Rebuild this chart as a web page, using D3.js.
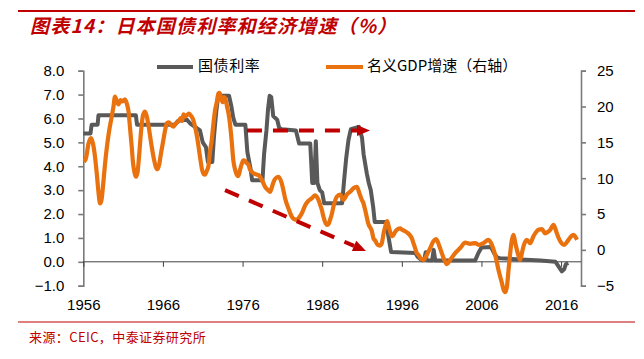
<!DOCTYPE html>
<html><head><meta charset="utf-8">
<script src="https://cdn.jsdelivr.net/npm/d3@7"></script>
<style>
html,body{margin:0;padding:0;background:#fff;}
svg{display:block;}
</style>
</head><body>
<svg id="c" width="644" height="359"></svg>
<script>
const titleText = "图表14：日本国债利率和经济增速（%）";
const sourceText = "来源：CEIC，中泰证券研究所";
const legendLabels = ["国债利率", "名义GDP增速（右轴）"];
const xTicks = [1956, 1966, 1976, 1986, 1996, 2006, 2016];
const leftTicks = [-1, 0, 1, 2, 3, 4, 5, 6, 7, 8];
const rightTicks = [-5, 0, 5, 10, 15, 20, 25];

const bondYears = [1956.0,1956.9,1957.05,1957.8,1957.9,1962.6,1962.75,1967.5,1967.9,1969.0,1969.4,1970.65,1971.0,1971.4,1971.65,1972.2,1972.4,1972.7,1972.95,1974.3,1974.6,1974.85,1975.1,1976.35,1976.6,1977.0,1977.2,1978.5,1978.7,1979.0,1979.2,1979.4,1979.6,1979.85,1980.35,1980.6,1980.95,1982.7,1983.1,1984.5,1984.75,1985.0,1985.2,1985.4,1985.7,1986.0,1986.25,1988.5,1988.75,1989.0,1989.3,1989.6,1990.6,1991.0,1991.2,1991.6,1991.85,1992.1,1992.4,1992.6,1994.0,1994.3,1994.65,1997.7,1998.0,1998.5,1998.8,1999.0,1999.1,1999.8,2000.0,2000.2,2005.2,2005.6,2006.0,2007.2,2007.6,2008.0,2008.35,2010.9,2013.4,2015.3,2015.7,2016.1,2016.4,2016.6,2016.9];
const bondYield = [5.37,5.37,5.74,5.74,6.13,6.13,5.74,5.74,5.9,5.95,5.8,5.5,5.0,4.8,4.18,4.18,5.2,6.3,6.95,6.95,6.5,6.0,5.74,5.74,4.6,3.9,3.41,3.41,4.5,5.5,6.4,6.95,6.9,6.1,5.95,5.6,5.55,5.5,4.95,4.95,3.3,3.3,5.05,3.3,3.0,2.9,2.45,2.45,3.4,4.3,5.1,5.55,5.65,5.2,4.5,3.7,3.3,3.0,2.3,1.67,1.67,1.1,0.41,0.37,0.2,0.07,0.07,0.4,0.07,0.05,0.5,0.05,0.05,0.36,0.6,0.62,0.35,0.17,0.15,0.1,0.05,0.0,-0.2,-0.4,-0.3,-0.1,-0.05];

const gdpYears = [1956.09,1956.34,1956.65,1956.97,1957.22,1957.47,1957.72,1957.91,1958.10,1958.29,1958.51,1958.73,1958.98,1959.23,1959.57,1959.79,1959.98,1960.23,1960.42,1960.67,1960.86,1961.24,1961.49,1961.68,1961.87,1962.08,1962.24,1962.43,1962.62,1962.81,1963.0,1963.25,1963.5,1963.75,1964.0,1964.25,1964.59,1964.88,1965.07,1965.30,1965.51,1965.76,1966.05,1966.33,1966.51,1966.77,1967.02,1967.31,1967.52,1967.77,1968.02,1968.21,1968.40,1968.59,1968.78,1969.03,1969.28,1969.53,1969.82,1970.03,1970.28,1970.54,1970.72,1970.91,1971.10,1971.29,1971.50,1971.70,1971.92,1972.13,1972.33,1972.55,1972.76,1972.96,1973.11,1973.30,1973.49,1973.68,1973.86,1974.05,1974.24,1974.43,1974.64,1974.84,1975.06,1975.27,1975.47,1975.69,1975.90,1976.10,1976.31,1976.53,1976.73,1976.94,1977.16,1977.36,1977.78,1977.98,1978.41,1978.83,1979.24,1979.45,1979.67,1979.87,1980.08,1980.50,1980.92,1981.15,1981.34,1981.75,1982.18,1982.47,1982.81,1983.10,1983.44,1983.85,1984.23,1984.69,1985.11,1985.32,1985.52,1985.74,1985.95,1986.15,1986.36,1986.58,1986.80,1986.99,1987.21,1987.41,1987.83,1988.25,1988.66,1989.09,1989.50,1989.92,1990.35,1990.67,1990.97,1991.18,1991.39,1991.81,1992.24,1992.44,1992.65,1992.96,1993.22,1993.49,1993.69,1993.91,1994.16,1994.41,1994.59,1994.85,1995.10,1995.37,1995.79,1996.04,1996.41,1996.79,1997.04,1997.26,1997.46,1997.67,1997.88,1998.09,1998.30,1998.71,1999.14,1999.56,1999.97,2000.31,2000.72,2001.0,2001.23,2001.65,2002.07,2002.70,2003.33,2003.96,2004.59,2005.21,2005.63,2006.25,2006.88,2007.31,2007.72,2008.14,2008.56,2008.79,2008.98,2009.19,2009.40,2009.61,2009.79,2010.03,2010.24,2010.45,2010.67,2010.86,2011.05,2011.28,2011.70,2012.12,2012.53,2012.87,2013.16,2013.59,2014.0,2014.32,2014.63,2015.05,2015.26,2015.47,2015.89,2016.39,2016.93,2017.27,2017.59,2017.80,2018.0];
const gdpGrowth = [12.3,12.8,14.8,15.6,14.8,13.0,10.3,8.0,6.5,7.0,9.3,12.0,14.5,16.5,18.6,20.0,21.4,20.6,20.3,20.9,20.7,21.0,20.3,19.3,17.0,14.4,12.2,10.8,10.2,10.8,13.0,16.5,18.8,19.3,18.5,16.9,14.4,12.6,11.7,11.25,11.8,13.5,15.3,17.0,17.7,17.8,17.4,17.2,17.5,17.8,18.0,18.4,18.0,18.9,18.6,18.8,19.0,18.7,18.1,17.2,15.8,13.9,12.5,11.2,10.6,10.5,11.0,11.6,13.8,15.3,17.5,19.5,20.6,21.8,21.9,21.2,20.6,21.3,21.0,20.0,19.0,17.5,15.1,12.5,11.2,10.5,10.3,11.2,12.0,12.5,12.4,12.1,11.9,11.2,10.9,10.7,10.5,10.45,9.8,8.8,8.3,8.1,8.7,9.4,9.9,10.2,9.3,8.2,7.2,5.8,4.65,4.3,4.2,4.5,5.1,6.2,6.8,7.2,7.6,7.4,7.0,6.3,5.6,4.65,3.9,3.5,3.6,4.2,5.0,6.0,7.4,7.7,7.0,7.7,8.1,8.6,8.8,7.9,7.0,6.5,5.6,3.6,2.6,1.6,1.3,0.7,0.6,0.95,2.2,3.2,4.0,3.0,2.3,1.9,2.4,2.8,3.0,2.8,2.6,2.3,2.0,1.6,0.95,0.25,-0.45,-0.7,-1.1,-1.4,-0.7,0.25,1.2,1.5,0.5,-0.4,-1.1,-2.0,-1.4,-0.45,0.25,1.0,0.85,0.95,0.7,0.95,1.4,0.7,-0.7,-2.8,-4.6,-5.6,-5.9,-5.2,-2.8,-0.45,1.2,2.1,1.0,0.0,-0.9,-1.4,-0.6,0.5,1.4,0.95,1.9,2.5,2.8,2.9,2.3,2.5,2.8,3.5,3.0,2.3,1.2,0.7,1.4,1.9,2.1,1.8,1.4];

// annotation arrows (data coordinates: year, left-axis value)
const arrowFlat = [[1976.55, 5.5], [1992.0, 5.5]];
const arrowDown = [[1973.8, 3.0], [1991.5, 0.45]];

const svg = d3.select("#c");
const RED = "#C00000", GRAY = "#595959", ORANGE = "#E9710E";
const CJK = "'Noto Sans CJK SC', sans-serif";
const LAT = "'Liberation Sans', Arial, sans-serif";

const x = d3.scaleLinear().domain([1956, 2018.5]).range([83.3, 581]);
const yL = d3.scaleLinear().domain([-1, 8]).range([285.7, 70.7]);
const yR = d3.scaleLinear().domain([-5, 25]).range([285.7, 70.7]);

// header / footer
svg.append("line").attr("x1", 18).attr("x2", 635).attr("y1", 11).attr("y2", 11).attr("stroke", RED).attr("stroke-width", 2);
svg.append("text").attr("x", 30).attr("y", 33).text(titleText)
  .attr("font-family", CJK).attr("font-size", 19).attr("letter-spacing", 1.2).attr("font-weight", 700).attr("font-style", "italic").attr("fill", RED);
svg.append("line").attr("x1", 18).attr("x2", 635).attr("y1", 322).attr("y2", 322).attr("stroke", RED).attr("stroke-width", 1.2);
svg.append("text").attr("x", 29).attr("y", 342).text(sourceText)
  .attr("font-family", CJK).attr("font-size", 13).attr("letter-spacing", 0.4).attr("fill", RED);

// axes
const axL = d3.axisLeft(yL).tickValues(leftTicks).tickFormat(d3.format(".1f")).tickSize(5).tickPadding(14);
const axR = d3.axisRight(yR).tickValues(rightTicks).tickFormat(d3.format("d")).tickSize(5).tickPadding(11);
const axX = d3.axisBottom(x).tickValues(xTicks).tickFormat(d3.format("d")).tickSize(5).tickPadding(0);

function styleAxis(g, col, w) {
  g.select(".domain").attr("stroke", col).attr("stroke-width", w);
  g.selectAll(".tick line").attr("stroke", col).attr("stroke-width", w);
  g.selectAll("text").attr("font-family", LAT).attr("font-size", 15).attr("fill", "#000");
}
const gL = svg.append("g").attr("transform", "translate(83.3,0)").call(axL);
styleAxis(gL, "#7a7a7a", 1.6);
const gR = svg.append("g").attr("transform", "translate(581,0)").call(axR);
styleAxis(gR, "#7a7a7a", 1.6);
const gX = svg.append("g").attr("transform", `translate(0,${yL(0)})`).call(axX);
styleAxis(gX, "#404040", 1);
gX.selectAll(".tick text").attr("dy", null).attr("y", 44).attr("dominant-baseline", "middle");
gX.select(".domain").attr("d", `M${x(1956)},0H${x(2018.5)}`);

// series
const bond = bondYears.map((d, i) => [d, bondYield[i]]);
const gdp = gdpYears.map((d, i) => [d, gdpGrowth[i]]);
svg.append("path").datum(bond)
  .attr("d", d3.line().x(d => x(d[0])).y(d => yL(d[1])))
  .attr("fill", "none").attr("stroke", GRAY).attr("stroke-width", 4).attr("stroke-linejoin", "round");
svg.append("path").datum(gdp)
  .attr("d", d3.line().x(d => x(d[0])).y(d => yR(d[1])).curve(d3.curveMonotoneX))
  .attr("fill", "none").attr("stroke", ORANGE).attr("stroke-width", 4.2).attr("stroke-linejoin", "round");

// arrows
function arrow(pts) {
  const [x0, y0] = [x(pts[0][0]), yL(pts[0][1])];
  const [x1, y1] = [x(pts[1][0]), yL(pts[1][1])];
  const L = Math.hypot(x1 - x0, y1 - y0), ux = (x1 - x0) / L, uy = (y1 - y0) / L;
  const hl = 13, hw = 5.5;
  const bx = x1 - ux * hl, by = y1 - uy * hl;
  svg.append("line").attr("x1", x0).attr("y1", y0).attr("x2", bx).attr("y2", by)
    .attr("stroke", RED).attr("stroke-width", 4).attr("stroke-dasharray", "15,11");
  svg.append("polygon").attr("points", [[x1, y1], [bx - uy * hw, by + ux * hw], [bx + uy * hw, by - ux * hw]].map(p => p.join(",")).join(" "))
    .attr("fill", RED);
}
arrow(arrowFlat);
arrow(arrowDown);

// legend
const leg = svg.append("g");
leg.append("line").attr("x1", 157).attr("x2", 193).attr("y1", 67).attr("y2", 67).attr("stroke", GRAY).attr("stroke-width", 4);
leg.append("text").attr("x", 198).attr("y", 67).attr("dominant-baseline", "middle").text(legendLabels[0])
  .attr("font-family", CJK).attr("font-size", 15).attr("letter-spacing", 0.6).attr("fill", "#000");
leg.append("line").attr("x1", 326).attr("x2", 363).attr("y1", 67).attr("y2", 67).attr("stroke", ORANGE).attr("stroke-width", 4);
leg.append("text").attr("x", 367).attr("y", 67).attr("dominant-baseline", "middle").text(legendLabels[1])
  .attr("font-family", CJK).attr("font-size", 15).attr("fill", "#000");
</script>
</body></html>
